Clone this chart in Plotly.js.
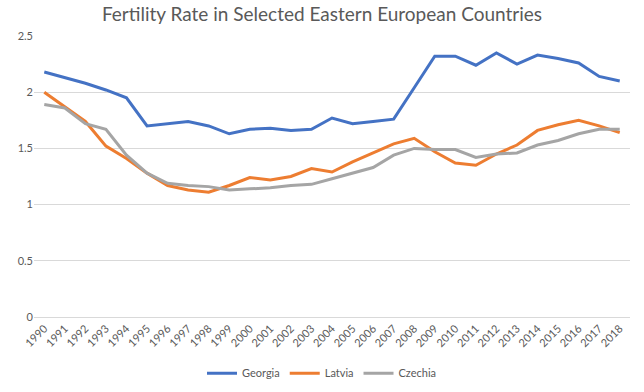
<!DOCTYPE html>
<html>
<head>
<meta charset="utf-8">
<script src="https://cdn.plot.ly/plotly-3.0.1.min.js"></script>
<style>html,body{margin:0;padding:0;background:#fff;}#chart{width:644px;height:392px;}</style>
</head>
<body>
<div id="chart"></div>
<script>
const years = ["1990","1991","1992","1993","1994","1995","1996","1997","1998","1999","2000","2001","2002","2003","2004","2005","2006","2007","2008","2009","2010","2011","2012","2013","2014","2015","2016","2017","2018"];
const georgia = [2.18,2.13,2.08,2.02,1.95,1.70,1.72,1.74,1.70,1.63,1.67,1.68,1.66,1.67,1.77,1.72,1.74,1.76,2.04,2.32,2.32,2.24,2.35,2.25,2.33,2.30,2.26,2.14,2.10];
const latvia = [2.00,1.87,1.74,1.52,1.41,1.28,1.17,1.13,1.11,1.17,1.24,1.22,1.25,1.32,1.29,1.38,1.46,1.54,1.59,1.47,1.37,1.35,1.45,1.53,1.66,1.71,1.75,1.70,1.64];
const czechia = [1.89,1.86,1.72,1.67,1.44,1.28,1.19,1.17,1.16,1.13,1.14,1.15,1.17,1.18,1.23,1.28,1.33,1.44,1.50,1.49,1.49,1.42,1.45,1.46,1.53,1.57,1.63,1.67,1.67];
const yTicks = [0,0.5,1,1.5,2,2.5];
const yTickText = ["0","0.5","1","1.5","2","2.5"];

const font = "Lato, 'Open Sans', 'Liberation Sans', sans-serif";
const mk = (name, y, color) => ({x: years, y: y, name: name, type: 'scatter', mode: 'lines', line: {color: color, width: 3}});
const data = [mk('Georgia', georgia, '#4472C4'), mk('Latvia', latvia, '#ED7D31'), mk('Czechia', czechia, '#A5A5A5')];
const layout = {
  width: 644, height: 392,
  margin: {l: 34, r: 14, t: 36, b: 75},
  paper_bgcolor: '#fff', plot_bgcolor: '#fff',
  font: {family: font, color: '#595959', size: 11},
  title: {text: 'Fertility Rate in Selected Eastern European Countries', x: 0.5, xanchor: 'center', y: 0.963, yanchor: 'middle', font: {family: font, size: 19, color: '#595959'}},
  xaxis: {type: 'category', range: [-0.5, 28.5], automargin: false, tickangle: -45, showgrid: false, showline: true, linecolor: '#d9d9d9', linewidth: 1, ticks: '', tickfont: {size: 11, color: '#595959'}, fixedrange: true},
  yaxis: {range: [0, 2.5], automargin: false, tickvals: yTicks, ticktext: yTickText, showgrid: true, gridcolor: '#d9d9d9', gridwidth: 1, zeroline: true, zerolinecolor: '#d9d9d9', zerolinewidth: 1, showline: false, ticks: '', tickfont: {size: 11, color: '#595959'}, fixedrange: true},
  legend: {orientation: 'h', x: 0.5, xanchor: 'center', xref: 'container', yref: 'container', y: 0.048, yanchor: 'middle', itemwidth: 30, font: {size: 11, color: '#595959'}},
  showlegend: true
};
Plotly.newPlot('chart', data, layout, {displayModeBar: false, staticPlot: true});
</script>
</body>
</html>
